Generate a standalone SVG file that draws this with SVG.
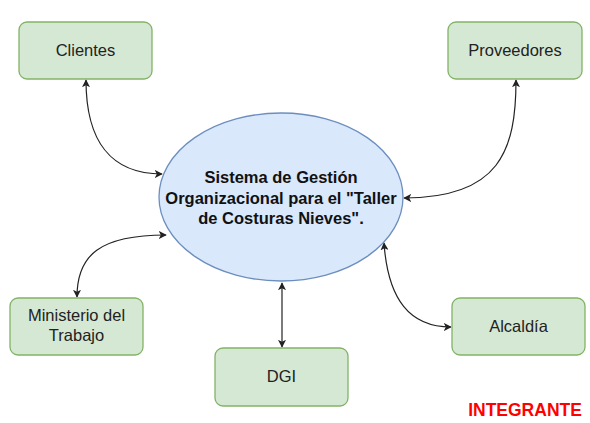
<svg xmlns="http://www.w3.org/2000/svg" width="590" height="423" viewBox="0 0 590 423">
<defs>
<style>
.box{fill:#d5e8d4;stroke:#82b366;stroke-width:1.3}
.ell{fill:#dae8fc;stroke:#6c8ebf;stroke-width:1.3}
.lbl{font-family:"Liberation Sans",Arial,sans-serif;font-size:16.5px;fill:#222;text-anchor:middle}
.main{font-family:"Liberation Sans",Arial,sans-serif;font-size:16.5px;font-weight:bold;fill:#111;text-anchor:middle}
.con{fill:none;stroke:#222;stroke-width:1.2}
</style>
<marker id="ah" viewBox="0 0 10 10" refX="9" refY="5" markerWidth="8" markerHeight="8" markerUnits="userSpaceOnUse" orient="auto-start-reverse">
<path d="M0,0 L10,5 L0,10 L2.5,5 Z" fill="#222"/>
</marker>
</defs>
<rect width="590" height="423" fill="#fff"/>
<g id="connectors">
<path class="con" d="M86,80 C86,140 110,174 162,174" marker-start="url(#ah)" marker-end="url(#ah)"/>
<path class="con" d="M516,80 C516,150 500,198 404,198" marker-start="url(#ah)" marker-end="url(#ah)"/>
<path class="con" d="M77,297 C77,255 100,235 166,235" marker-start="url(#ah)" marker-end="url(#ah)"/>
<path class="con" d="M282,283 L282,347" marker-start="url(#ah)" marker-end="url(#ah)"/>
<path class="con" d="M384,243 C388,300 410,327 451,327" marker-start="url(#ah)" marker-end="url(#ah)"/>
</g>
<g id="clientes">
<rect class="box" x="19" y="22" width="133" height="57" rx="8"/>
<text class="lbl" x="85.5" y="56">Clientes</text>
</g>
<g id="proveedores">
<rect class="box" x="448" y="22" width="134" height="57" rx="8"/>
<text class="lbl" x="515" y="56">Proveedores</text>
</g>
<g id="sistema">
<ellipse class="ell" cx="281" cy="197" rx="122" ry="84"/>
<text class="main" x="281" y="183">Sistema de Gestión</text>
<text class="main" x="281" y="203.5">Organizacional para el "Taller</text>
<text class="main" x="281" y="224">de Costuras Nieves".</text>
</g>
<g id="ministerio">
<rect class="box" x="10" y="298" width="133" height="57" rx="8"/>
<text class="lbl" x="76.5" y="321">Ministerio del</text>
<text class="lbl" x="76.5" y="341">Trabajo</text>
</g>
<g id="dgi">
<rect class="box" x="215" y="348" width="133" height="58" rx="8"/>
<text class="lbl" x="281.5" y="382">DGI</text>
</g>
<g id="alcaldia">
<rect class="box" x="452" y="298" width="133" height="57" rx="8"/>
<text class="lbl" x="518.5" y="332">Alcaldía</text>
</g>
<text x="525" y="416" font-family="'Liberation Sans',Arial,sans-serif" font-size="17.5" font-weight="bold" fill="#ff0000" text-anchor="middle">INTEGRANTE</text>
</svg>
